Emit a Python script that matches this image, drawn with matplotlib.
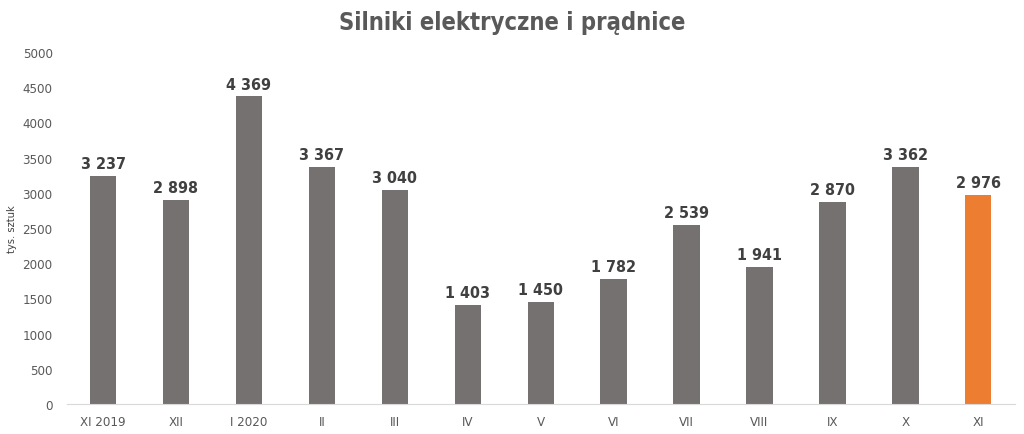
import matplotlib.pyplot as plt

# data
months = ["XI 2019", "XII", "I 2020", "II", "III", "IV", "V", "VI", "VII", "VIII", "IX", "X", "XI"]
values = [3237, 2898, 4369, 3367, 3040, 1403, 1450, 1782, 2539, 1941, 2870, 3362, 2976]

plt.rcParams['font.family'] = ['DejaVu Sans']
plt.rcParams['font.stretch'] = 'condensed'

colors = ["#767171"] * (len(values) - 1) + ["#ED7D31"]

fig = plt.figure(figsize=(10.24, 4.35), dpi=100)
ax = fig.add_axes([0.065, 0.069, 0.926, 0.809])

x = range(len(values))
bars = ax.bar(x, values, width=0.36, color=colors)
ax.set_xlim(-0.5, len(values) - 0.5)
ax.set_ylim(0, 5000)
ax.set_yticks(range(0, 5001, 500))

for i, v in enumerate(values):
    lab = "{:,}".format(v).replace(",", " ")
    ax.text(i, v + 70, lab, ha="center", va="bottom", fontsize=11.5,
            fontweight="bold", color="#404040", stretch="condensed")

ax.set_xticks(list(x))
ax.set_xticklabels(months)
ax.tick_params(axis="both", length=0, labelsize=9.5, colors="#595959")
ax.tick_params(axis="x", pad=8)
ax.tick_params(axis="y", pad=10)
for s in ["top", "right", "left"]:
    ax.spines[s].set_visible(False)
ax.spines["bottom"].set_color("#D9D9D9")

ax.set_ylabel("tys. sztuk", fontsize=8, color="#404040", labelpad=4)
fig.suptitle("Silniki elektryczne i prądnice", fontsize=17, fontweight="bold",
             color="#595959", y=0.975)

fig.savefig("out.png", dpi=100)
